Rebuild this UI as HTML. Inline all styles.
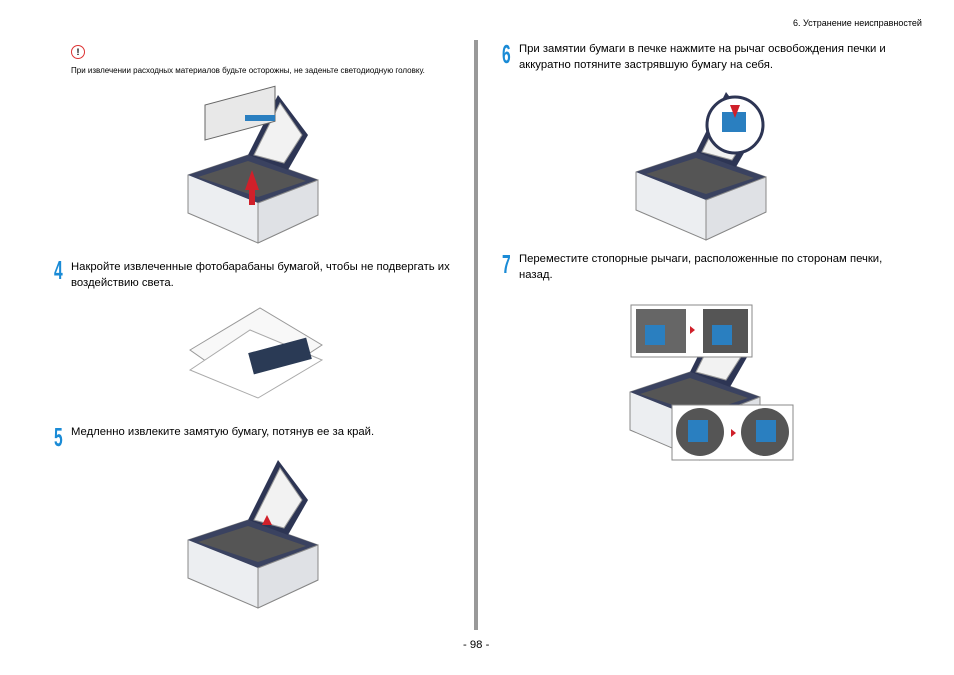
<!DOCTYPE html>
<html><head><meta charset="utf-8"><style>
body{margin:0;width:954px;height:675px;background:#fff;position:relative;font-family:"Liberation Sans",sans-serif;color:#000;overflow:hidden}
.a{position:absolute}
.t{font-size:11.3px;line-height:16px}
.n{position:absolute;color:#1a8bd6;font-weight:bold;font-size:26px;transform:scaleX(0.6);transform-origin:left top;font-family:"Liberation Sans Narrow","Liberation Sans",sans-serif}
</style></head><body>
<div class="a" style="left:793px;top:18px;font-size:9px">6. Устранение неисправностей</div>
<div class="a" style="left:474px;top:40px;width:4px;height:590px;background:#999"></div>
<div class="a" style="left:71px;top:45px;width:12px;height:12px;border:1.5px solid #d33;border-radius:50%;font-size:9px;font-weight:bold;text-align:center;line-height:12px">!</div>
<div class="a" style="left:71px;top:66px;font-size:8px">При извлечении расходных материалов будьте осторожны, не заденьте светодиодную головку.</div>

<svg class="a" style="left:0;top:0" width="954" height="675">
<defs>
<g id="pr">
<polygon points="0,80 60,60 130,85 130,120 70,148 0,118" fill="#eceef1" stroke="#888" stroke-width="1"/>
<polygon points="0,80 60,60 130,85 70,108" fill="#3a4260"/>
<polygon points="10,82 60,66 118,86 70,102" fill="#555"/>
<polygon points="70,108 130,85 130,120 70,148" fill="#dfe1e5" stroke="#888"/>
<polygon points="60,60 90,0 120,40 100,75" fill="#2d3554"/>
<polygon points="66,60 92,8 114,40 96,68" fill="#f2f2f2" stroke="#999"/>
</g>
</defs>
<use href="#pr" x="188" y="95"/>
<g transform="translate(205,95)"><rect x="0" y="10" width="70" height="35" fill="#e8e8e8" stroke="#666" transform="skewY(-15)"/><rect x="40" y="20" width="30" height="6" fill="#2a7fc0"/></g>
<polygon points="245,190 252,170 259,190 255,190 255,205 249,205 249,190" fill="#d0202a"/>
<polygon points="190,350 260,308 322,345 250,392" fill="#f8f8f8" stroke="#999"/>
<polygon points="190,370 250,330 322,360 258,398" fill="#fff" stroke="#aaa"/>
<rect x="250" y="345" width="60" height="22" fill="#2a3a55" transform="rotate(-15 280 356)"/>
<use href="#pr" x="188" y="460"/>
<polygon points="262,525 267,515 272,525" fill="#d0202a"/>
<use href="#pr" x="636" y="92"/>
<circle cx="735" cy="125" r="28" fill="#fff" stroke="#2d3554" stroke-width="3"/>
<rect x="722" y="112" width="24" height="20" fill="#2a7fc0"/>
<polygon points="730,105 740,105 735,118" fill="#d0202a"/>
<use href="#pr" x="630" y="312"/>
<rect x="631" y="305" width="121" height="52" fill="#fff" stroke="#888"/>
<rect x="636" y="309" width="50" height="44" fill="#666"/><rect x="703" y="309" width="45" height="44" fill="#555"/>
<rect x="645" y="325" width="20" height="20" fill="#2a7fc0"/><rect x="712" y="325" width="20" height="20" fill="#2a7fc0"/>
<polygon points="690,326 695,330 690,334" fill="#d0202a"/>
<rect x="672" y="405" width="121" height="55" fill="#fff" stroke="#888"/>
<circle cx="700" cy="432" r="24" fill="#555"/><circle cx="765" cy="432" r="24" fill="#555"/>
<rect x="688" y="420" width="20" height="22" fill="#2a7fc0"/><rect x="756" y="420" width="20" height="22" fill="#2a7fc0"/>
<polygon points="731,429 736,433 731,437" fill="#d0202a"/>
</svg>

<div class="n" style="left:54px;top:255px">4</div>
<div class="a t" style="left:71px;top:259px">Накройте извлеченные фотобарабаны бумагой, чтобы не подвергать их<br>воздействию света.</div>
<div class="n" style="left:54px;top:422px">5</div>
<div class="a t" style="left:71px;top:424px">Медленно извлеките замятую бумагу, потянув ее за край.</div>
<div class="n" style="left:502px;top:39px">6</div>
<div class="a t" style="left:519px;top:41px">При замятии бумаги в печке нажмите на рычаг освобождения печки и<br>аккуратно потяните застрявшую бумагу на себя.</div>
<div class="n" style="left:502px;top:249px">7</div>
<div class="a t" style="left:519px;top:251px">Переместите стопорные рычаги, расположенные по сторонам печки,<br>назад.</div>
<div class="a" style="left:463px;top:639px;font-size:11.3px">- 98 -</div>
</body></html>
